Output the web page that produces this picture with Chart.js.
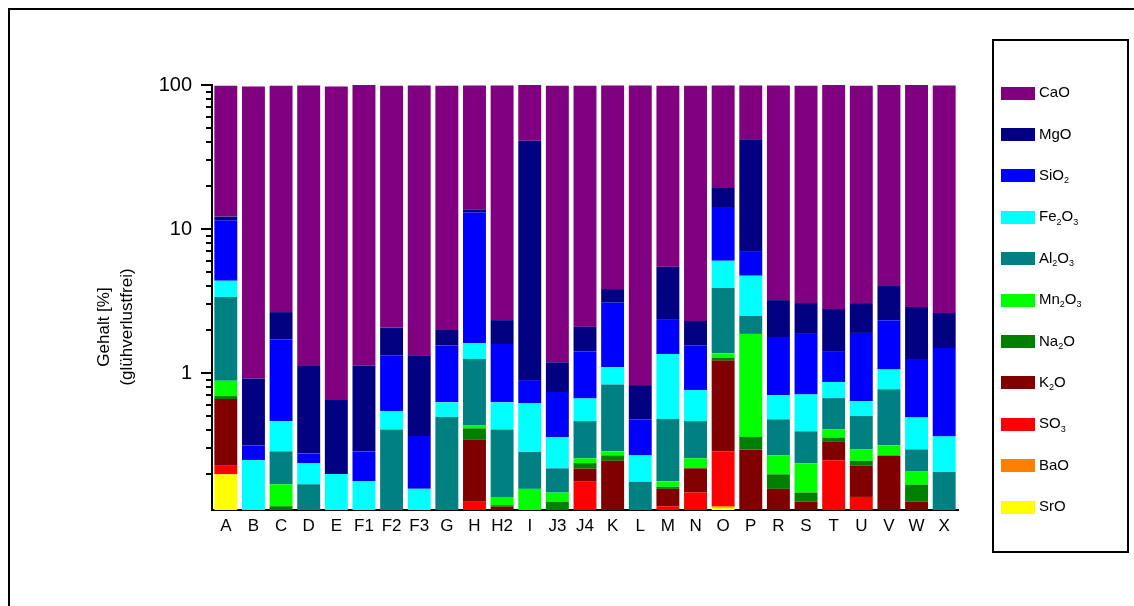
<!DOCTYPE html>
<html>
<head>
<meta charset="utf-8">
<script src="https://cdn.jsdelivr.net/npm/chart.js@4.4.1/dist/chart.umd.min.js"></script>
<style>
  html, body { margin: 0; padding: 0; background: #ffffff; }
  canvas { display: block; }
</style>
</head>
<body>
<canvas id="chart" width="1134" height="606"></canvas>
<script>
// Samples along the x axis
const samples = ['A','B','C','D','E','F1','F2','F3','G','H','H2','I','J3','J4','K','L','M','N','O','P','R','S','T','U','V','W','X'];

// Oxide contents in % (loss-on-ignition free), one value per sample
const SrO   = [0.198,0,0,0,0,0,0,0,0,0,0,0,0,0,0,0,0,0,0.116,0,0,0,0,0,0,0,0];
const BaO   = [0,0,0,0,0,0,0,0,0,0,0,0,0,0,0,0,0,0,0.003,0,0,0,0,0,0,0,0];
const SO3   = [0.029,0,0,0,0,0,0,0,0,0.128,0,0,0,0.176,0,0,0.119,0.148,0.167,0,0,0,0.248,0.138,0,0,0];
const K2O   = [0.433,0,0,0,0,0,0,0,0,0.216,0.118,0,0,0.041,0.246,0,0.038,0.070,0.934,0.295,0.157,0.128,0.088,0.089,0.268,0.128,0];
const Na2O  = [0.032,0,0.119,0,0,0,0,0,0,0.069,0.003,0,0.128,0.020,0.022,0,0.005,0,0.060,0.065,0.041,0.020,0.021,0.019,0,0.040,0];
const Mn2O3 = [0.192,0,0.050,0,0,0,0,0,0,0.022,0.017,0.157,0.020,0.019,0.018,0,0.015,0.038,0.090,1.51,0.070,0.088,0.049,0.049,0.047,0.039,0];
const Al2O3 = [2.49,0,0.117,0.169,0,0,0.406,0,0.495,0.817,0.268,0.127,0.070,0.208,0.548,0.176,0.303,0.208,2.52,0.62,0.209,0.158,0.264,0.208,0.456,0.088,0.206];
const Fe2O3 = [1.00,0.248,0.178,0.067,0.199,0.177,0.139,0.157,0.131,0.36,0.22,0.332,0.142,0.203,0.266,0.092,0.875,0.298,2.13,2.25,0.223,0.317,0.196,0.136,0.289,0.197,0.157];
const SiO2  = [7.13,0.067,1.256,0.041,0,0.109,0.775,0.208,0.924,11.4,0.964,0.278,0.378,0.753,1.98,0.209,1.015,0.80,8.2,2.29,1.08,1.16,0.554,1.26,1.27,0.758,1.13];
const MgO   = [0.70,0.603,0.93,0.841,0.451,0.844,0.74,0.965,0.44,0.70,0.74,40.1,0.45,0.68,0.75,0.348,3.1,0.74,5.3,35.0,1.43,1.19,1.36,1.16,1.69,1.62,1.12];
const CaO   = [86.8,96.6,96.35,97.9,96.85,98.8,96.9,97.7,97.0,85.3,96.7,58.9,97.8,96.9,95.2,98.2,93.5,96.7,79.5,57.0,95.8,95.9,97.1,95.9,95.9,97.0,96.4];

// Stack order, bottom to top; digits in the names are written as subscripts
const oxideNames = ['SrO','BaO','SO3','K2O','Na2O','Mn2O3','Al2O3','Fe2O3','SiO2','MgO','CaO'];
const oxideValues = [SrO, BaO, SO3, K2O, Na2O, Mn2O3, Al2O3, Fe2O3, SiO2, MgO, CaO];
const oxideColors = ['#ffff00','#ff8000','#ff0000','#800000','#008000','#00ff00','#008080','#00ffff','#0000ff','#000080','#800080'];

// Value-axis ticks and the labelled decades
const majorTicks = [1, 10, 100];
const minorTicks = [0.2,0.3,0.4,0.5,0.6,0.7,0.8,0.9,2,3,4,5,6,7,8,9,20,30,40,50,60,70,80,90];

const FONT = '"Liberation Sans", Arial, Helvetica, sans-serif';

function drawFormula(ctx, text, x, y, size) {
  // chemical formula: digits become lowered, smaller glyphs
  let cx = x;
  const parts = text.match(/[0-9]+|[^0-9]+/g);
  for (const p of parts) {
    const sub = /^[0-9]+$/.test(p);
    const fs = sub ? Math.round(size * 0.62) : size;
    ctx.font = fs + 'px ' + FONT;
    ctx.fillText(p, cx, sub ? y + size * 0.33 : y);
    cx += ctx.measureText(p).width;
  }
}

const decorations = {
  id: 'decorations',
  afterDraw(chart) {
    const ctx = chart.ctx;
    const y = chart.scales.y;
    const x0 = chart.chartArea.left;
    ctx.save();

    // outer frame
    ctx.strokeStyle = '#000';
    ctx.lineWidth = 2;
    ctx.beginPath();
    ctx.moveTo(9, 620);
    ctx.lineTo(9, 9);
    ctx.lineTo(1150, 9);
    ctx.stroke();

    // tick marks on the logarithmic axis
    ctx.lineWidth = 2;
    ctx.beginPath();
    for (const v of majorTicks) {
      const py = Math.round(y.getPixelForValue(v));
      ctx.moveTo(x0 - 11, py);
      ctx.lineTo(x0, py);
    }
    for (const v of minorTicks) {
      const py = Math.round(y.getPixelForValue(v));
      ctx.moveTo(x0 - 6, py);
      ctx.lineTo(x0, py);
    }
    ctx.stroke();

    // axis title, two rotated lines
    ctx.fillStyle = '#000';
    ctx.textAlign = 'center';
    ctx.textBaseline = 'middle';
    ctx.font = '17px ' + FONT;
    ctx.translate(0, 0);
    ctx.save();
    ctx.translate(104, 327);
    ctx.rotate(-Math.PI / 2);
    ctx.fillText('Gehalt [%]', 0, 0);
    ctx.restore();
    ctx.save();
    ctx.translate(127, 327);
    ctx.rotate(-Math.PI / 2);
    ctx.fillText('(glühverlustfrei)', 0, 0);
    ctx.restore();

    // legend box
    ctx.lineWidth = 2;
    ctx.strokeRect(993, 40, 135, 512);
    ctx.textAlign = 'left';
    ctx.textBaseline = 'middle';
    for (let i = 0; i < oxideNames.length; i++) {
      const k = oxideNames.length - 1 - i;
      const cy = 93 + i * 41.4;
      ctx.fillStyle = oxideColors[k];
      ctx.fillRect(1001, Math.round(cy - 6.5), 34, 13);
      ctx.fillStyle = '#000';
      drawFormula(ctx, oxideNames[k], 1039, cy, 15);
    }
    ctx.restore();
  }
};

const datasets = oxideNames.map((name, i) => ({
  label: name,
  data: oxideValues[i],
  backgroundColor: oxideColors[i],
  borderWidth: 0,
  barPercentage: 0.83,
  categoryPercentage: 1.0
}));

new Chart(document.getElementById('chart'), {
  type: 'bar',
  data: { labels: samples, datasets },
  options: {
    responsive: false,
    animation: false,
    devicePixelRatio: 1,
    layout: { padding: { left: 0, top: 85, right: 176, bottom: 66 } },
    plugins: { legend: { display: false }, tooltip: { enabled: false } },
    scales: {
      x: {
        stacked: true,
        grid: { display: false, drawTicks: false },
        border: { display: true, color: '#000', width: 2 },
        ticks: { color: '#000', font: { family: FONT, size: 17 }, padding: 6, autoSkip: false, maxRotation: 0 },
        afterFit(scale) { scale.height = 30; }
      },
      y: {
        type: 'logarithmic',
        stacked: true,
        min: 0.112,
        max: 100,
        grid: { display: false, drawTicks: false },
        border: { display: true, color: '#000', width: 2 },
        ticks: {
          color: '#000',
          font: { family: FONT, size: 20 },
          padding: 20,
          autoSkip: false,
          callback: (v) => majorTicks.includes(v) ? String(v) : ''
        },
        afterBuildTicks(scale) { scale.ticks = majorTicks.map(v => ({ value: v })); },
        afterFit(scale) { scale.width = 212; }
      }
    }
  },
  plugins: [decorations]
});
</script>
</body>
</html>
